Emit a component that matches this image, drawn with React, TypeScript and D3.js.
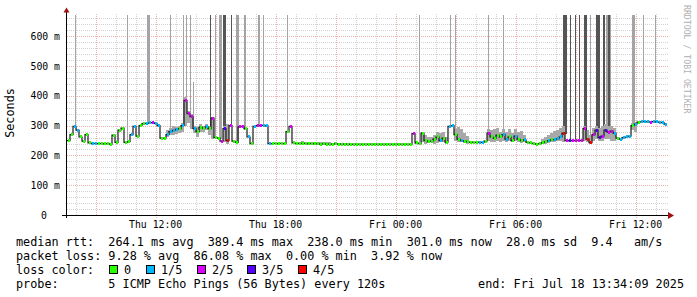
import React from "react";
import * as d3 from "d3";

// ---- time axis ----
const START = Date.UTC(2025, 6, 17, 7, 34, 9);
const END = START + 30 * 3600 * 1000;
const STEP_MIN = 9; // minutes per median sample

// ---- median rtt (ms), one value per 9-minute step ----
const median: number[] = [
  250, 270, 298, 285, 262, 248, 270, 242, 240, 241,
  240, 240, 239, 240, 238, 268, 244, 285, 292, 244,
  246, 270, 298, 265, 300, 307, 308, 309, 310, 308,
  300, 258, 258, 270, 280, 284, 288, 290, 300, 385,
  340, 330, 290, 280, 295, 292, 296, 290, 325, 260,
  258, 248, 290, 250, 300, 248, 244, 296, 298, 290,
  262, 240, 298, 300, 300, 301, 299, 240, 240, 241,
  240, 241, 240, 280, 298, 242, 240, 240, 241, 240,
  239, 240, 239, 239, 238, 239, 238, 238, 238, 239,
  238, 238, 238, 238, 237, 238, 238, 238, 238, 238,
  238, 238, 238, 238, 238, 238, 238, 238, 238, 238,
  238, 238, 238, 238, 238, 273, 242, 240, 275, 250,
  246, 248, 255, 262, 250, 258, 245, 298, 300, 270,
  255, 250, 248, 246, 244, 245, 244, 245, 244, 248,
  275, 262, 258, 268, 262, 270, 255, 262, 250, 265,
  255, 250, 252, 244, 242, 240, 238, 240, 243, 246,
  250, 252, 253, 256, 262, 275, 250, 249, 250, 250,
  251, 250, 290, 255, 243, 270, 285, 260, 265, 285,
  278, 282, 275, 258, 255, 260, 262, 265, 300, 305,
  312, 313, 314, 313, 312, 314, 313, 312, 310, 305,
];

// ---- lost pings (of 5) per step ----
const loss: number[] = [
  0, 0, 1, 1, 0, 0, 0, 0, 1, 1,
  0, 0, 0, 0, 0, 0, 0, 0, 0, 0,
  0, 1, 1, 0, 0, 0, 1, 1, 2, 1,
  1, 0, 0, 1, 1, 1, 1, 0, 1, 2,
  2, 2, 1, 0, 0, 0, 1, 0, 2, 0,
  0, 2, 3, 4, 2, 0, 0, 2, 2, 0,
  1, 0, 1, 2, 2, 1, 1, 1, 0, 0,
  0, 0, 0, 0, 2, 0, 0, 0, 0, 0,
  0, 0, 0, 0, 0, 0, 0, 0, 0, 0,
  0, 0, 0, 0, 0, 0, 0, 0, 0, 0,
  0, 0, 0, 0, 0, 0, 0, 0, 0, 0,
  0, 0, 0, 0, 0, 2, 0, 0, 0, 0,
  0, 0, 0, 0, 1, 0, 0, 1, 1, 0,
  0, 1, 0, 0, 0, 0, 0, 1, 1, 0,
  2, 0, 0, 0, 0, 1, 1, 0, 0, 1,
  0, 0, 1, 0, 0, 0, 0, 0, 0, 0,
  1, 0, 1, 1, 1, 4, 2, 3, 2, 2,
  2, 2, 2, 4, 4, 2, 3, 3, 2, 3,
  2, 2, 1, 0, 1, 1, 1, 1, 0, 1,
  0, 1, 1, 1, 2, 1, 1, 1, 1, 1,
];

// ---- smoke (spread of the 5 pings), sparse: step index, low ms, high ms ----
const smokeStep: number[] = [
  33, 34, 35, 36, 37, 38, 39, 40, 41, 42, 43, 44, 45, 46, 47, 48, 52, 53,
  77, 78, 79, 80, 81, 82, 83, 84, 85, 86, 87, 88, 89, 90, 91, 92, 93, 94,
  116, 118, 119, 120, 121, 122, 123, 124, 125, 126, 129, 130, 131, 132, 133,
  140, 141, 142, 143, 144, 145, 146, 147, 148, 149, 150, 151, 152,
  158, 159, 160, 161, 162, 163, 164, 165,
  172, 173, 174, 175, 176, 177, 178, 179, 180, 181, 182, 188, 189,
];
const smokeLo: number[] = [
  262, 268, 270, 272, 275, 280, 300, 310, 290, 275, 262, 280, 280, 285, 270, 255, 245, 240,
  238, 238, 238, 238, 238, 238, 238, 238, 238, 238, 238, 238, 238, 238, 238, 238, 238, 238,
  240, 245, 240, 242, 244, 240, 242, 244, 244, 240, 250, 245, 244, 242, 240,
  250, 245, 245, 250, 245, 250, 245, 248, 244, 250, 245, 242, 244,
  240, 240, 242, 244, 246, 248, 250, 245,
  250, 245, 240, 250, 255, 248, 250, 255, 255, 250, 248, 285, 280,
];
const smokeHi: number[] = [
  285, 292, 300, 296, 300, 310, 395, 350, 340, 300, 295, 305, 300, 305, 300, 330, 300, 305,
  246, 247, 246, 245, 246, 245, 244, 245, 244, 244, 245, 243, 244, 243, 243, 242, 243, 242,
  250, 280, 270, 262, 262, 270, 280, 275, 280, 262, 290, 295, 290, 275, 265,
  290, 285, 288, 292, 280, 290, 280, 288, 275, 290, 278, 282, 270,
  255, 262, 270, 275, 282, 285, 292, 300,
  300, 285, 270, 292, 300, 292, 298, 305, 300, 300, 292, 310, 312,
];

// ---- outlier pings far above the scale: start (min from start), duration (min), max ms, pings ----
const spikeStartMin: number[] = [
  24, 180, 240, 309, 348, 357, 369, 378, 429, 444, 456, 468, 492, 507, 531, 573, 588,
  660, 1056, 1149, 1164, 1263, 1308, 1488, 1509, 1524, 1536, 1551, 1569, 1587, 1608,
  1617, 1623, 1629, 1695, 1728, 1764,
];
const spikeDurMin: number[] = [
  3, 3, 9, 3, 3, 3, 3, 3, 3, 3, 9, 9, 3, 9, 6, 6, 3,
  3, 3, 3, 3, 3, 3, 12, 3, 3, 3, 9, 3, 12, 6,
  6, 6, 3, 9, 3, 3,
];
const spikeMax: number[] = [
  999, 999, 999, 999, 999, 999, 999, 450, 999, 999, 999, 999, 999, 999, 999, 999, 999,
  999, 999, 999, 999, 999, 999, 999, 999, 999, 999, 999, 999, 999, 999,
  999, 999, 999, 999, 999, 999,
];
const spikePings: number[] = [
  1, 1, 1, 1, 1, 1, 1, 1, 2, 1, 1, 2, 2, 1, 1, 1, 1,
  1, 1, 1, 1, 1, 1, 2, 2, 2, 2, 2, 1, 2, 2,
  1, 2, 1, 1, 1, 1,
];

// ---- axes / legend text ----
const yTicksMs: number[] = [0, 100, 200, 300, 400, 500, 600];
const yTickLabels: string[] = ["0", "100 m", "200 m", "300 m", "400 m", "500 m", "600 m"];
const lossLabels: string[] = ["0", "1/5", "2/5", "3/5", "4/5"];
const lossColors: string[] = ["#26ff00", "#00b8ff", "#dd00ff", "#5500ff", "#ff0000"];
const legendLines: string[] = [
  "median rtt:  264.1 ms avg  389.4 ms max  238.0 ms min  301.0 ms now  28.0 ms sd  9.4   am/s",
  "packet loss: 9.28 % avg  86.08 % max  0.00 % min  3.92 % now",
  "loss color:",
  "probe:       5 ICMP Echo Pings (56 Bytes) every 120s",
];
const endLabel = "end: Fri Jul 18 13:34:09 2025";

const W = 697;
const H = 297;
const L = 67;
const R = 667;
const B = 215;
const T = 14;
const MONO = "'DejaVu Sans Mono', monospace";

export default function App() {
  const x = d3.scaleUtc().domain([new Date(START), new Date(END)]).range([L, R]);
  const y = d3.scaleLinear().domain([0, 675]).range([B, T]).clamp(true);
  const tAt = (min: number) => new Date(START + min * 60000);
  const crisp = (v: number) => Math.round(v) + 0.5;

  const hourTicks = d3.utcHour.every(1)!.range(new Date(START), new Date(END));
  const majorTicks = d3.utcHour.every(3)!.range(new Date(START), new Date(END));
  const labelTicks = d3.utcHour.every(6)!.range(new Date(START), new Date(END));
  const fmt = d3.utcFormat("%a %H:%M");
  const minorY = d3.range(20, 675, 20).filter((v) => v % 100 !== 0);

  const pts = median.map((m, i) => [x(tAt(i * STEP_MIN)), y(m)] as [number, number]);
  pts.push([x(new Date(END)), y(median[median.length - 1])]);
  const linePath = d3.line().curve(d3.curveStepAfter)(pts) || "";

  return (
    <svg
      width={W}
      height={H}
      style={{ position: "fixed", left: 0, top: 0, background: "#fff" }}
      fontFamily={MONO}
    >
      <rect x={0} y={0} width={W} height={H} fill="#fff" />
      {/* minor grid */}
      <g stroke="#d2d2d2" strokeWidth={1} strokeDasharray="1,1" shapeRendering="crispEdges">
        {hourTicks.map((t, i) => (
          <line key={"hv" + i} x1={crisp(x(t))} x2={crisp(x(t))} y1={T} y2={B} />
        ))}
        {minorY.map((v, i) => (
          <line key={"hh" + i} x1={L} x2={R + 1} y1={crisp(y(v))} y2={crisp(y(v))} />
        ))}
      </g>
      {/* major grid */}
      <g stroke="#f0b0b0" strokeWidth={1} strokeDasharray="1,1" shapeRendering="crispEdges">
        {majorTicks.map((t, i) => (
          <line key={"mv" + i} x1={crisp(x(t))} x2={crisp(x(t))} y1={T} y2={B} />
        ))}
        {labelTicks.map((t, i) => (
          <line key={"mt" + i} x1={crisp(x(t))} x2={crisp(x(t))} y1={B} y2={B + 3} />
        ))}
        {yTicksMs.slice(1).map((v, i) => (
          <line key={"mh" + i} x1={L} x2={R + 1} y1={crisp(y(v))} y2={crisp(y(v))} />
        ))}
      </g>

      {/* outlier spikes */}
      <g shapeRendering="crispEdges">
        {spikeStartMin.map((s, i) => {
          const x0 = x(tAt(s));
          const x1 = x(tAt(s + spikeDurMin[i]));
          const idx = Math.min(median.length - 1, Math.floor(s / STEP_MIN));
          const y0 = y(spikeMax[i]);
          const y1 = y(median[idx]);
          return (
            <rect
              key={"sp" + i}
              x={Math.round(x0)}
              y={Math.round(y0) + 1}
              width={Math.max(1, Math.round(x1 - x0))}
              height={y1 - y0}
              fill={spikePings[i] > 1 ? "#555555" : "#a4a4a4"}
            />
          );
        })}
      </g>

      {/* smoke */}
      <g shapeRendering="crispEdges">
        {smokeStep.map((s, i) => {
          const x0 = x(tAt(s * STEP_MIN));
          const x1 = x(tAt((s + 1) * STEP_MIN));
          return (
            <rect
              key={"sm" + i}
              x={x0}
              y={y(smokeHi[i])}
              width={x1 - x0}
              height={y(smokeLo[i]) - y(smokeHi[i])}
              fill="#a8a8a8"
            />
          );
        })}
      </g>

      {/* median */}
      <path d={linePath} fill="none" stroke="#1a1a1a" strokeWidth={1.2} />
      <g shapeRendering="crispEdges">
        {median.map((m, i) => {
          const x0 = x(tAt(i * STEP_MIN));
          const x1 = x(tAt((i + 1) * STEP_MIN));
          return (
            <rect
              key={"md" + i}
              x={x0 + 0.5}
              y={y(m) - 1.5}
              width={x1 - x0 - 0.5}
              height={3}
              fill={lossColors[loss[i]]}
            />
          );
        })}
      </g>

      {/* axes */}
      <line x1={62} x2={668} y1={B + 0.5} y2={B + 0.5} stroke="#000" strokeWidth={1} />
      <line x1={L - 0.5} x2={L - 0.5} y1={B + 3} y2={11} stroke="#000" strokeWidth={1} />
      <polygon points={`${L - 3.5},12.5 ${L + 2.5},12.5 ${L - 0.5},7.5`} fill="#a01010" />
      <polygon points={`668,212 668,219 674,215.5`} fill="#a01010" />

      {/* y labels */}
      <g fontSize={9.8} fill="#000">
        {yTicksMs.map((v, i) => (
          <text key={"yl" + i} x={v === 0 ? 47 : 60} y={y(v) + 3.5} textAnchor="end">
            {yTickLabels[i]}
          </text>
        ))}
      </g>
      {/* x labels */}
      <g fontSize={9.8} fill="#000">
        {labelTicks.map((t, i) => (
          <text key={"xl" + i} x={x(t)} y={228} textAnchor="middle">
            {fmt(t)}
          </text>
        ))}
      </g>

      <text
        transform="translate(14,113) rotate(-90)"
        fontSize={11.8}
        textAnchor="middle"
        fill="#000"
      >
        Seconds
      </text>
      <text
        transform="translate(684,5) rotate(90)"
        fontSize={8.2}
        fill="#b0b0b0"
      >
        RRDTOOL / TOBI OETIKER
      </text>

      {/* legend */}
      <g fontSize={11.8} fill="#000" style={{ whiteSpace: "pre" }}>
        {legendLines.map((s, i) => (
          <text key={"lg" + i} x={16} y={245.5 + i * 14} xmlSpace="preserve">
            {s}
          </text>
        ))}
        <text x={684} y={287.5} textAnchor="end">
          {endLabel}
        </text>
        {lossLabels.map((lab, i) => {
          const sx = [109, 146, 197, 247, 298][i];
          return (
            <g key={"lc" + i}>
              <rect x={sx + 0.5} y={265.5} width={8} height={8} fill={lossColors[i]} stroke="#000" />
              <text x={sx + 15} y={273.5} xmlSpace="preserve">
                {lab}
              </text>
            </g>
          );
        })}
      </g>
    </svg>
  );
}
